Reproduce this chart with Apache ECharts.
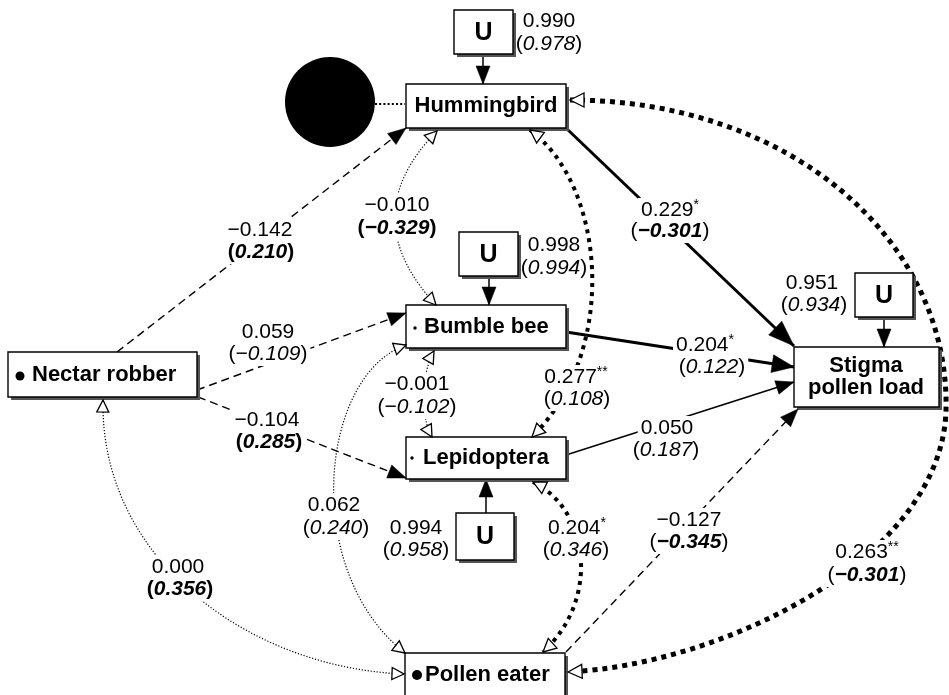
<!DOCTYPE html>
<html><head><meta charset="utf-8">
<script src="https://cdn.jsdelivr.net/npm/echarts@6/dist/echarts.min.js"></script>
<style>html,body{margin:0;padding:0;background:#fff}#c{width:949px;height:695px}</style>
</head><body><div id="c"></div>
<script>
// ================= DATA =================
const nodeNames = ['Hummingbird','Bumble bee','Nectar robber','Lepidoptera','Pollen eater','Stigma pollen load'];
// unexplained (U) residual paths: all visits / (alternative model)
const uTarget = ['Hummingbird','Bumble bee','Lepidoptera','Stigma pollen load'];
const uCoef = ['0.990','0.998','0.994','0.951'];
const uCoefAlt = ['0.978','0.994','0.958','0.934'];
// paths and correlations
const edgeFrom = ['Hummingbird','Nectar robber','Hummingbird','Nectar robber','Bumble bee','Bumble bee','Hummingbird','Nectar robber','Lepidoptera','Lepidoptera','Pollen eater','Bumble bee','Nectar robber','Hummingbird'];
const edgeTo = ['Stigma pollen load','Hummingbird','Bumble bee','Bumble bee','Stigma pollen load','Lepidoptera','Lepidoptera','Lepidoptera','Stigma pollen load','Pollen eater','Stigma pollen load','Pollen eater','Pollen eater','Pollen eater'];
const edgeType = ['path','path','corr','path','path','corr','corr','path','path','corr','path','corr','corr','corr'];
const edgeCoef = ['0.229','−0.142','−0.010','0.059','0.204','−0.001','0.277','−0.104','0.050','0.204','−0.127','0.062','0.000','0.263'];
const edgeStars = ['*','','','','*','','**','','','*','','','','**'];
const edgeCoefAlt = ['−0.301','0.210','−0.329','−0.109','0.122','−0.102','0.108','0.285','0.187','0.346','−0.345','0.240','0.356','−0.301'];
const edgeAltSig = [true,true,true,false,false,false,false,true,false,false,true,false,true,true];

// ================= LAYOUT / STYLE =================
const F = "'Liberation Sans', Arial, Helvetica, sans-serif";
const BOX = {
  'Hummingbird':[406,84,160,44],
  'Bumble bee':[406,305,160,43],
  'Nectar robber':[8,352,189,45],
  'Lepidoptera':[406,437,160,42],
  'Pollen eater':[405,653,160,52],
  'Stigma pollen load':[794,347,145,60]
};
const NODE_TEXT = {
  'Hummingbird':{text:'Hummingbird',x:486,y:106,align:'center'},
  'Bumble bee':{text:'Bumble bee',x:424,y:327,align:'left',dot:[415,328,1.7]},
  'Nectar robber':{text:'Nectar robber',x:32,y:375,align:'left',dot:[20,376,4.5]},
  'Lepidoptera':{text:'Lepidoptera',x:423,y:458,align:'left',dot:[412,458,1.7]},
  'Pollen eater':{text:'Pollen eater',x:425,y:675,align:'left',dot:[417,675,5]},
  'Stigma pollen load':{text:'Stigma\npollen load',x:866,y:377,align:'center'}
};
const U_BOX = [[454,10,59,44],[459,232,59,44],[456,513,58,47],[855,273,58,44]];
const U_LINK = [[[483,54],[483,84]],[[489,276],[489,305]],[[486,513],[486,479]],[[884,317],[884,347]]];
const U_LABEL = [[549,21,549,44],[554,245,554,268],[416,528,416,550],[812,283,814,305]];
const LATENT = {c:[330,102], r:45, link:[[375,104],[405,104]]};

const LINE = {
  solidThick:{w:3,dash:null}, solid:{w:1.5,dash:null}, dashed:{w:1.4,dash:[8,5]},
  dotThin:{w:1.2,dash:[1.2,1.8]}, dotThick:{w:4,dash:[4,5]}, dotHeavy:{w:5,dash:[5,5]}
};
const edgeLine = ['solidThick','dashed','dotThin','dashed','solidThick','dotThin','dotThick','dashed','solid','dotThick','dashed','dotThin','dotThin','dotHeavy'];
const edgeGeom = [
  [[567,129],[794,346]],
  [[117,352],[406,128]],
  [[437,131],[381,188],[381,246],[436,305]],
  [[197,390],[406,313]],
  [[566,332],[794,367]],
  [[434,351],[422,372],[419,414],[432,437]],
  [[530,130],[605,185],[620,350],[532,437]],
  [[198,397],[406,478]],
  [[566,455],[794,382]],
  [[533,482],[590,510],[600,600],[543,652]],
  [[566,652],[798,409]],
  [[406,345],[320,375],[300,570],[405,653]],
  [[103,400],[100,560],[250,668],[404,674]],
  [[570,100],[790,100],[950,240],[946,410],[942,560],[720,665],[568,672]]
];
const edgeHead = [[26,9.5],[18,7],[12,6],[18,7],[22,9],[12,6],[13,6.5],[18,7],[18,7],[13,6.5],[18,7],[12,6],[12,6],[14,7]];
const edgeLabelPos = [[670,210,670,231],[260,230,261,252],[397,205,397,228],[268,332,268,354],[705,345,712,367],[417,384,417,407],[576,377,577,399],[267,420,269,442],[667,428,666,450],[577,528,576,550],[689,520,689,542],[334,505,336,528],[178,567,180,589],[867,552,867,575]];
const altParenBold = [false,true,true,false,false,false,false,true,false,false,false,false,true,false];

const RICH = {
  n:{fontSize:21,fontFamily:F,fill:'#000',lineHeight:24},
  s:{fontSize:14,fontFamily:F,fill:'#000',lineHeight:24,verticalAlign:'top'},
  p:{fontSize:21,fontFamily:F,fill:'#000',lineHeight:24},
  pb:{fontSize:21,fontFamily:F,fontWeight:'bold',fill:'#000',lineHeight:24},
  vi:{fontSize:21,fontFamily:F,fontStyle:'italic',fill:'#000',lineHeight:24},
  vb:{fontSize:21,fontFamily:F,fontStyle:'italic',fontWeight:'bold',fill:'#000',lineHeight:24}
};

// ================= RENDER =================
const chart = echarts.init(document.getElementById('c'), null, {renderer:'canvas'});
const idx = arr => arr.map((_, i) => [i, 0]);

function pathData(P) {
  let d = 'M' + P[0][0] + ' ' + P[0][1];
  if (P.length === 2) return d + ' L' + P[1][0] + ' ' + P[1][1];
  for (let k = 1; k + 2 < P.length; k += 3) {
    d += ' C' + P[k][0] + ' ' + P[k][1] + ' ' + P[k+1][0] + ' ' + P[k+1][1] + ' ' + P[k+2][0] + ' ' + P[k+2][1];
  }
  return d;
}
function head(tip, from, L, W, open) {
  let dx = tip[0] - from[0], dy = tip[1] - from[1];
  const len = Math.hypot(dx, dy) || 1; dx /= len; dy /= len;
  const bx = tip[0] - dx * L, by = tip[1] - dy * L;
  return {type:'polygon', shape:{points:[tip,[bx - dy * W, by + dx * W],[bx + dy * W, by - dx * W]]},
    style: open ? {fill:'#fff', stroke:'#000', lineWidth:1.3} : {fill:'#000', stroke:'#000', lineWidth:0.5}};
}
function textEl(x, y, text, extra) {
  return {type:'text', style:Object.assign({text:text, x:x, y:y, align:'center', verticalAlign:'middle',
    textAlign:'center', textVerticalAlign:'middle', fontFamily:F, fontSize:21, fill:'#000'}, extra || {})};
}

const option = {
  animation:false,
  grid:{left:0,right:0,top:0,bottom:0},
  xAxis:{type:'value',min:0,max:949,show:false},
  yAxis:{type:'value',min:0,max:695,inverse:true,show:false},
  series:[
    { // path & correlation lines
      type:'custom', silent:true, z:1, data:idx(edgeFrom),
      renderItem:(params, api) => {
        const i = params.dataIndex, st = LINE[edgeLine[i]];
        const P = edgeGeom[i].map(p => api.coord(p));
        return {type:'path', shape:{pathData:pathData(P)},
          style:{fill:'none', stroke:'#000', lineWidth:st.w, lineDash:st.dash, lineCap:'butt'}};
      }
    },
    { // U links and latent link
      type:'custom', silent:true, z:1, data:idx(uTarget),
      renderItem:(params, api) => {
        const i = params.dataIndex;
        const a = api.coord(U_LINK[i][0]), b = api.coord(U_LINK[i][1]);
        const ch = [{type:'line', shape:{x1:a[0],y1:a[1],x2:b[0],y2:b[1]}, style:{stroke:'#000',lineWidth:1.5}},
                    head(b, a, 18, 7, false)];
        if (i === 0) {
          const c = api.coord(LATENT.c), l0 = api.coord(LATENT.link[0]), l1 = api.coord(LATENT.link[1]);
          ch.push({type:'circle', shape:{cx:c[0],cy:c[1],r:LATENT.r}, style:{fill:'#000'}});
          ch.push({type:'line', shape:{x1:l0[0],y1:l0[1],x2:l1[0],y2:l1[1]}, style:{stroke:'#000',lineWidth:2.2,lineDash:[2,2.2]}});
        }
        return {type:'group', children:ch};
      }
    },
    { // edge coefficient labels
      type:'custom', silent:true, z:2, data:idx(edgeCoef),
      renderItem:(params, api) => {
        const i = params.dataIndex, p = edgeLabelPos[i];
        const a = api.coord([p[0], p[1]]), b = api.coord([p[2], p[3]]);
        const t1 = '{n|' + edgeCoef[i] + '}' + (edgeStars[i] ? '{s|' + edgeStars[i] + '}' : '');
        const ps = altParenBold[i] ? 'pb' : 'p', vs = edgeAltSig[i] ? 'vb' : 'vi';
        const t2 = '{' + ps + '|(}{' + vs + '|' + edgeCoefAlt[i] + '}{' + ps + '|)}';
        return {type:'group', children:[
          textEl(a[0], a[1], t1, {rich:RICH, backgroundColor:'#fff', padding:[0,3]}),
          textEl(b[0], b[1], t2, {rich:RICH, backgroundColor:'#fff', padding:[0,3]})
        ]};
      }
    },
    { // U labels
      type:'custom', silent:true, z:2, data:idx(uCoef),
      renderItem:(params, api) => {
        const i = params.dataIndex, p = U_LABEL[i];
        const a = api.coord([p[0], p[1]]), b = api.coord([p[2], p[3]]);
        return {type:'group', children:[
          textEl(a[0], a[1], '{n|' + uCoef[i] + '}', {rich:RICH}),
          textEl(b[0], b[1], '{p|(}{vi|' + uCoefAlt[i] + '}{p|)}', {rich:RICH})
        ]};
      }
    },
    { // nodes
      type:'custom', silent:true, z:3, data:idx(nodeNames),
      renderItem:(params, api) => {
        const name = nodeNames[params.dataIndex], b = BOX[name], t = NODE_TEXT[name];
        const tl = api.coord([b[0], b[1]]), br = api.coord([b[0] + b[2], b[1] + b[3]]);
        const w = br[0] - tl[0], h = br[1] - tl[1];
        const tp = api.coord([t.x, t.y]);
        const ch = [
          {type:'rect', shape:{x:tl[0] + 3, y:tl[1] + 3, width:w, height:h}, style:{fill:'#555'}},
          {type:'rect', shape:{x:tl[0], y:tl[1], width:w, height:h}, style:{fill:'#fff', stroke:'#000', lineWidth:1.4}},
          textEl(tp[0], tp[1], t.text, {fontSize:22, fontWeight:'bold', align:t.align, textAlign:t.align, lineHeight:22})
        ];
        if (t.dot) {
          const d = api.coord([t.dot[0], t.dot[1]]);
          ch.push({type:'circle', shape:{cx:d[0], cy:d[1], r:t.dot[2]}, style:{fill:'#000'}});
        }
        return {type:'group', children:ch};
      }
    },
    { // U boxes
      type:'custom', silent:true, z:3, data:idx(uTarget),
      renderItem:(params, api) => {
        const b = U_BOX[params.dataIndex];
        const tl = api.coord([b[0], b[1]]), br = api.coord([b[0] + b[2], b[1] + b[3]]);
        const w = br[0] - tl[0], h = br[1] - tl[1];
        return {type:'group', children:[
          {type:'rect', shape:{x:tl[0] + 3, y:tl[1] + 3, width:w, height:h}, style:{fill:'#555'}},
          {type:'rect', shape:{x:tl[0], y:tl[1], width:w, height:h}, style:{fill:'#fff', stroke:'#000', lineWidth:1.4}},
          textEl(tl[0] + w / 2, tl[1] + h / 2 + 1, 'U', {fontSize:25, fontWeight:'bold'})
        ]};
      }
    },
    { // arrow heads
      type:'custom', silent:true, z:4, data:idx(edgeFrom),
      renderItem:(params, api) => {
        const i = params.dataIndex, P = edgeGeom[i].map(p => api.coord(p)), n = P.length;
        const L = edgeHead[i][0], W = edgeHead[i][1];
        const ch = [];
        if (edgeType[i] === 'path') {
          ch.push(head(P[n - 1], P[n - 2], L, W, false));
        } else {
          ch.push(head(P[n - 1], P[n - 2], L, W, true));
          ch.push(head(P[0], P[1], L, W, true));
        }
        return {type:'group', children:ch};
      }
    }
  ]
};
chart.setOption(option);
</script>
</body></html>
